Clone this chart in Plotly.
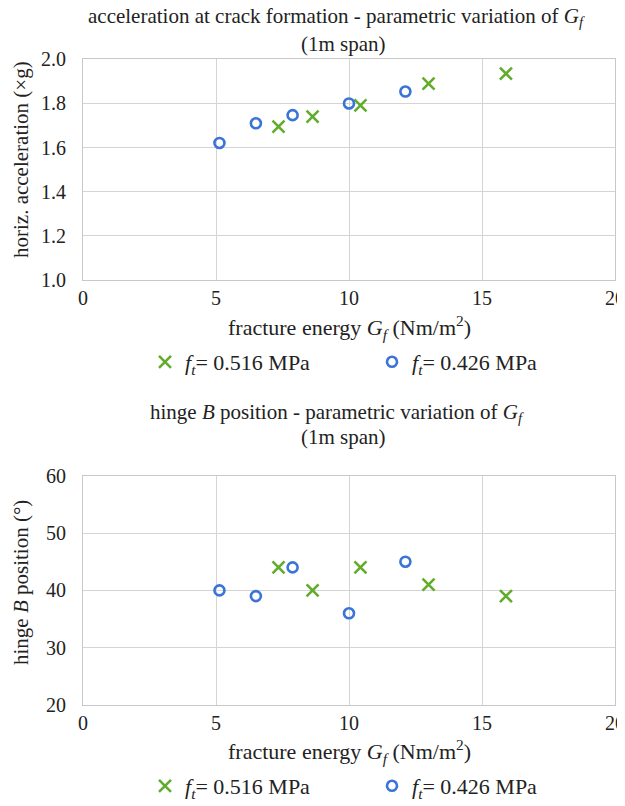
import plotly.graph_objects as go

# ---- data ----
gf_516 = [7.35, 8.63, 10.43, 12.99, 15.9]
acc_516 = [1.695, 1.74, 1.791, 1.89, 1.935]
hinge_516 = [44, 40, 44, 41, 39]

gf_426 = [5.13, 6.5, 7.88, 10.0, 12.12]
acc_426 = [1.621, 1.71, 1.747, 1.80, 1.854]
hinge_426 = [40, 39, 44, 36, 45]

name_516 = "<i>f</i><sub><i>t</i></sub>= 0.516 MPa"
name_426 = "<i>f</i><sub><i>t</i></sub>= 0.426 MPa"

GREEN = "#62AC2C"
BLUE = "#3A74D6"
FONT = "Liberation Serif, Times New Roman, serif"
TXT = "#222222"

# page body has an 8px margin; figure is sized/positioned to compensate
OFF = 8
W, H = 625 - OFF, 806 - OFF


def px(x):
    return (x - OFF) / W


def py(y):
    return 1 - (y - OFF) / H


fig = go.Figure()


def add(x, y, name, color, sym, size, xa, ya, legend):
    fig.add_trace(go.Scatter(
        x=x, y=y, mode="markers", name=name, xaxis=xa, yaxis=ya, legend=legend,
        marker=dict(symbol=sym, size=size, color=color,
                    line=dict(color=color, width=2.6)),
    ))


add(gf_516, acc_516, name_516, GREEN, "x-thin-open", 12, "x", "y", "legend")
add(gf_426, acc_426, name_426, BLUE, "circle-open", 10, "x", "y", "legend")
add(gf_516, hinge_516, name_516, GREEN, "x-thin-open", 12, "x2", "y2", "legend2")
add(gf_426, hinge_426, name_426, BLUE, "circle-open", 10, "x2", "y2", "legend2")

xd = [px(83), px(615)]
y1d = [py(280), py(59.3)]
y2d = [py(705), py(475.7)]

axis_common = dict(
    showgrid=True, gridcolor="#D4D4D4", gridwidth=1,
    showline=True, linecolor="#C8C8C8", linewidth=1, mirror=True,
    zeroline=False, ticks="", automargin=False,
    tickfont=dict(family=FONT, size=20, color=TXT),
)

xtitle = "fracture energy <i>G<sub>f</sub></i> (Nm/m<sup>2</sup>)"


def ann(text, x, y, xanchor="center", angle=0, size=21):
    return dict(text=text, x=px(x), y=py(y), xref="paper", yref="paper",
                xanchor=xanchor, yanchor="middle", textangle=angle,
                showarrow=False, font=dict(family=FONT, size=size, color=TXT))


fig.update_layout(
    width=W, height=H,
    margin=dict(l=0, r=0, t=0, b=0, autoexpand=False),
    paper_bgcolor="white", plot_bgcolor="white",
    font=dict(family=FONT, size=20, color=TXT),
    xaxis=dict(domain=xd, range=[0, 20], dtick=5, anchor="y", ticklabelstandoff=0, **axis_common),
    yaxis=dict(domain=y1d, range=[1.0, 2.0], dtick=0.2, tickformat=".1f", anchor="x",
               ticklabelstandoff=12, **axis_common),
    xaxis2=dict(domain=xd, range=[0, 20], dtick=5, anchor="y2", ticklabelstandoff=0, **axis_common),
    yaxis2=dict(domain=y2d, range=[20, 60], dtick=10, anchor="x2",
                ticklabelstandoff=12, **axis_common),
    legend=dict(orientation="h", x=px(145), y=py(341), xanchor="left", yanchor="top",
                entrywidth=182, entrywidthmode="pixels",
                font=dict(family=FONT, size=22, color=TXT), bgcolor="rgba(0,0,0,0)"),
    legend2=dict(orientation="h", x=px(145), y=py(765), xanchor="left", yanchor="top",
                 entrywidth=182, entrywidthmode="pixels",
                 font=dict(family=FONT, size=22, color=TXT), bgcolor="rgba(0,0,0,0)"),
    annotations=[
        ann("acceleration at crack formation - parametric variation of <i>G<sub>f</sub></i>", 86, 17, "left"),
        ann("(1m span)", 344, 44),
        ann("hinge <i>B</i> position - parametric variation of <i>G<sub>f</sub></i>", 148, 413, "left"),
        ann("(1m span)", 344, 437),
        ann(xtitle, 349, 327, size=22),
        ann(xtitle, 349, 751, size=22),
        ann("horiz. acceleration (×g)", 21, 160, angle=-90),
        ann("hinge <i>B</i> position (°)", 21, 583, angle=-90),
    ],
)

fig.write_html("out.html")
